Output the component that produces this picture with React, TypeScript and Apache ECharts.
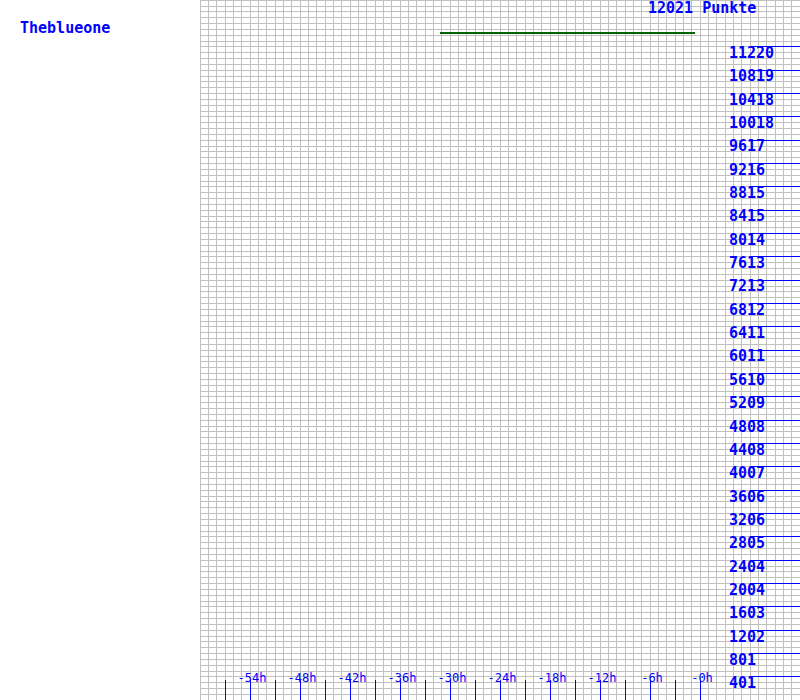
import React, { useEffect, useRef } from "react";
import * as echarts from "echarts";

// ---- data ----
const TOTAL_POINTS = 12021;
const TITLE_LEFT = "Theblueone";
const TITLE_RIGHT = "12021 Punkte";
const lineHours = [-31.2, -0.6];
const lineValues = [11454, 11454];
const xTickHours = [-57, -54, -51, -48, -45, -42, -39, -36, -33, -30, -27, -24, -21, -18, -15, -12, -9, -6, -3, 0];
const xLabelHours = [-54, -48, -42, -36, -30, -24, -18, -12, -6, 0];
const yTickLabels = [
  401, 801, 1202, 1603, 2004, 2404, 2805, 3206, 3606, 4007, 4408, 4808, 5209, 5610,
  6011, 6411, 6812, 7213, 7613, 8014, 8415, 8815, 9216, 9617, 10018, 10418, 10819, 11220,
];
const X_MIN = -60;
const X_MAX = 12;

const BLUE = "#0000ff";
const GRID_GRAY = "#c0c0c0";
const MONO = "'DejaVu Sans Mono', 'Liberation Mono', monospace";

export default function App() {
  const ref = useRef<HTMLDivElement>(null);
  useEffect(() => {
    document.body.style.margin = "0";
    const chart = echarts.init(ref.current!, undefined, { renderer: "svg" });
    const yInterval = TOTAL_POINTS / 120;
    const hidden = {
      axisLine: { show: false, onZero: false },
      axisTick: { show: false },
      axisLabel: { show: false },
      splitLine: { show: false },
    };
    chart.setOption({
      animation: false,
      backgroundColor: "#ffffff",
      title: [
        {
          text: TITLE_LEFT,
          left: 20,
          top: 20,
          padding: 0,
          textStyle: { color: BLUE, fontFamily: MONO, fontSize: 15, fontWeight: "bold" },
        },
        {
          text: TITLE_RIGHT,
          left: 648,
          top: 0,
          padding: 0,
          textStyle: { color: BLUE, fontFamily: MONO, fontSize: 15, fontWeight: "bold" },
        },
      ],
      grid: { left: 200, right: 0, top: 0, bottom: 0 },
      xAxis: [
        {
          type: "value",
          min: X_MIN,
          max: X_MAX,
          interval: 1,
          ...hidden,
          splitLine: { show: true, lineStyle: { color: GRID_GRAY, width: 1 } },
        },
        {
          type: "value",
          min: X_MIN,
          max: X_MAX,
          position: "bottom",
          ...hidden,
          axisTick: {
            show: true,
            inside: true,
            length: 20,
            customValues: xTickHours,
            lineStyle: { color: BLUE, width: 1 },
          },
          axisLabel: {
            show: true,
            inside: true,
            margin: 16,
            customValues: xLabelHours,
            color: BLUE,
            fontFamily: MONO,
            fontSize: 12,
            padding: [0, 0, 0, 4],
            formatter: (v: number) => `-${Math.abs(v)}h`,
          },
        },
      ],
      yAxis: [
        {
          type: "value",
          min: 0,
          max: TOTAL_POINTS,
          interval: yInterval,
          ...hidden,
          splitLine: { show: true, lineStyle: { color: GRID_GRAY, width: 1 } },
        },
        {
          type: "value",
          min: 0,
          max: TOTAL_POINTS,
          position: "right",
          ...hidden,
          axisTick: {
            show: true,
            inside: true,
            length: 50,
            customValues: yTickLabels,
            lineStyle: { color: BLUE, width: 1 },
          },
          axisLabel: {
            show: true,
            inside: true,
            margin: 71,
            align: "left",
            verticalAlign: "top",
            padding: [-1, 0, 0, 0],
            customValues: yTickLabels,
            color: BLUE,
            fontFamily: MONO,
            fontSize: 15,
            fontWeight: "bold",
            formatter: (v: number) => String(v),
          },
        },
      ],
      series: [
        {
          type: "line",
          xAxisIndex: 0,
          yAxisIndex: 0,
          data: lineHours.map((h, i) => [h, lineValues[i]]),
          symbol: "none",
          lineStyle: { color: "#006400", width: 2 },
        },
      ],
    });
    return () => chart.dispose();
  }, []);
  return (
    <div
      ref={ref}
      style={{ position: "fixed", left: 0, top: 0, width: 800, height: 700 }}
    />
  );
}
